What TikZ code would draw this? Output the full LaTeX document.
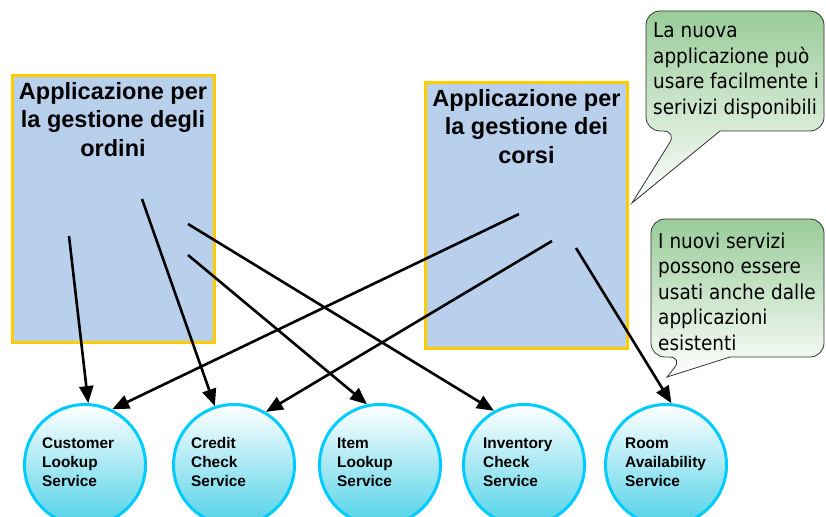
\documentclass[tikz,border=0pt]{standalone}
\usepackage{fontspec}
\setmainfont{Liberation Sans}
\newfontfamily\notefont[FakeStretch=0.9]{DejaVu Sans}
\usetikzlibrary{arrows.meta}

\definecolor{appfill}{RGB}{185,208,236}
\definecolor{appedge}{RGB}{255,204,0}
\definecolor{svcedge}{RGB}{0,204,255}
\definecolor{svcbottom}{RGB}{80,210,232}
\definecolor{notetop}{RGB}{153,204,153}

\begin{document}
\begin{tikzpicture}[x=1pt,y=-1pt,
  appbox/.style={draw=appedge, line width=3pt, fill=appfill,
    minimum width=202pt, minimum height=266pt, inner sep=0pt},
  apptitle/.style={font=\fontsize{23.5}{28.5}\selectfont\bfseries,
    align=center, anchor=base, inner sep=0pt},
  svc/.style={circle, draw=svcedge, line width=3pt, minimum size=121pt,
    inner sep=0pt, top color=white, bottom color=svcbottom},
  svclabel/.style={font=\fontsize{15.4}{18.7}\selectfont\bfseries,
    align=left, anchor=base west, inner sep=0pt},
  link/.style={line width=2.6pt, -{Triangle[length=17pt,width=14pt]}},
  note/.style={draw=black!80, line width=0.8pt, top color=notetop, bottom color=white},
  notetext/.style={font=\notefont\fontsize{20.5}{25.5}\selectfont,
    align=left, anchor=base west, inner sep=0pt},
]
\useasboundingbox (0,0) rectangle (826,516);
\clip (0,0) rectangle (826,516);

% applications (text nodes are placed by the baseline of their last line)
\node[appbox] (ordini) at (113,209) {};
\node[apptitle] (ordiniT) at (113,156) {Applicazione per\\la gestione degli\\ordini};
\node[appbox] (corsi) at (526,215.5) {};
\node[apptitle] (corsiT) at (526.5,163) {Applicazione per\\la gestione dei\\corsi};

% callouts
\draw[note, rounded corners=14pt] (735,131) -- (824,131) -- (824,11) -- (646,11)
  -- (646,131) -- (677,131) [sharp corners] -- (632,203) -- (720,131) -- cycle;
\node[notetext] (note1) at (653,114)
  {La nuova\\applicazione può\\usare facilmente i\\serivizi disponibili};

\draw[note, rounded corners=14pt] (740,357) -- (824,357) -- (824,219) -- (651,219)
  -- (651,357) -- (683,357) [sharp corners] -- (667,377) -- (730,357) -- cycle;
\node[notetext] (note2) at (658,350)
  {I nuovi servizi\\possono essere\\usati anche dalle\\applicazioni\\esistenti};

% services
\node[svc] (cust) at (85,465) {};
\node[svc] (cred) at (234,465) {};
\node[svc] (item) at (380,465) {};
\node[svc] (inv)  at (524,465) {};
\node[svc] (room) at (666,465) {};
\node[svclabel] (custT) at (42,486) {Customer\\Lookup\\Service};
\node[svclabel] (credT) at (191,486) {Credit\\Check\\Service};
\node[svclabel] (itemT) at (337,486) {Item\\Lookup\\Service};
\node[svclabel] (invT)  at (483,486) {Inventory\\Check\\Service};
\node[svclabel] (roomT) at (625,486) {Room\\Availability\\Service};

% calls from the applications to the services
\coordinate (o1) at (69,236);
\coordinate (o2) at (142,199);
\coordinate (o3) at (188,224);
\coordinate (o4) at (188,255);
\coordinate (c1) at (519,214);
\coordinate (c2) at (552,241);
\coordinate (c3) at (576,248);

\draw[link] (o1) -- (cust.87);
\draw[link] (o2) -- (cred.108);
\draw[link] (o3) -- (inv.119);
\draw[link] (o4) -- (item.102);
\draw[link] (c1) -- (cust.64);
\draw[link] (c2) -- (cred.59);
\draw[link] (c3) -- (room.85);
\end{tikzpicture}
\end{document}
